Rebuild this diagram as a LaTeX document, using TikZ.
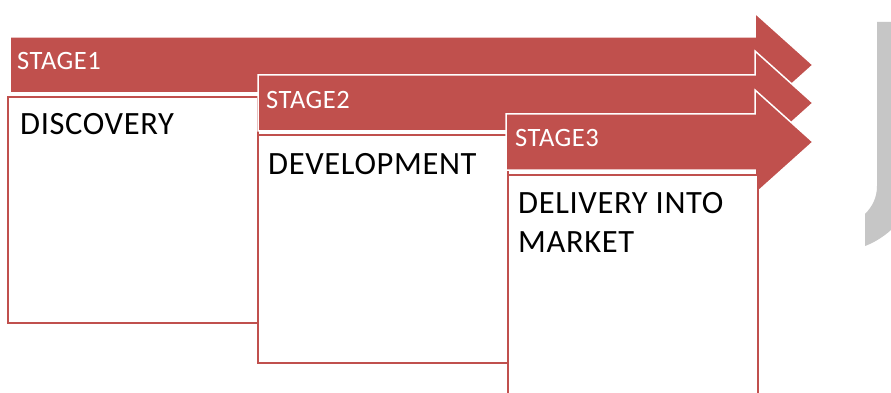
\documentclass[tikz,border=0pt]{standalone}
\usepackage{fontspec}
\setmainfont{Carlito}[LetterSpace=2]
\definecolor{stagered}{RGB}{192,80,77}
\begin{document}
\begin{tikzpicture}[x=1pt,y=-1pt,
  stagearrow/.style={fill=stagered, draw=white, line width=1.5pt, line join=miter},
  stagebox/.style={draw=stagered, fill=white, line width=2.5pt},
  stagelabel/.style={anchor=north west, inner sep=0pt, text=white, font=\fontsize{26.5}{31}\selectfont},
  boxlabel/.style={anchor=north west, inner sep=0pt, align=left, font=\fontsize{32.5}{39}\selectfont}]
\clip (0,0) rectangle (891,393);
\fill[white] (0,0) rectangle (891,393);
\fill[gray!45] (877,22)--(891,22)--(891,230) .. controls (882,238) and (873,243) .. (865,246)--(865,214) .. controls (872,207) and (877,198) .. (877,186)--cycle;
\draw[stagearrow] (10,37)--(755,37)--(755,13)--(813,65)--(755,117)--(755,93)--(10,93)--cycle;
\draw[stagebox] (8,97) rectangle (258,323);
\draw[stagearrow] (258,75)--(755,75)--(755,51)--(813,103)--(755,155)--(755,131)--(258,131)--cycle;
\draw[stagebox] (258,135) rectangle (508,363);
\draw[stagearrow] (506,114)--(755,114)--(755,90)--(813,142)--(755,194)--(755,170)--(506,170)--cycle;
\draw[stagebox] (508,175) rectangle (758,410);
\node[stagelabel] (stageone) at (17,52) {STAGE1};
\node[stagelabel] (stagetwo) at (266,91) {STAGE2};
\node[stagelabel] (stagethree) at (515,129) {STAGE3};
\node[boxlabel] (discovery) at (20,113) {DISCOVERY};
\node[boxlabel] (development) at (268,153) {DEVELOPMENT};
\node[boxlabel] (delivery) at (518,192) {DELIVERY INTO\\MARKET};
\end{tikzpicture}
\end{document}
